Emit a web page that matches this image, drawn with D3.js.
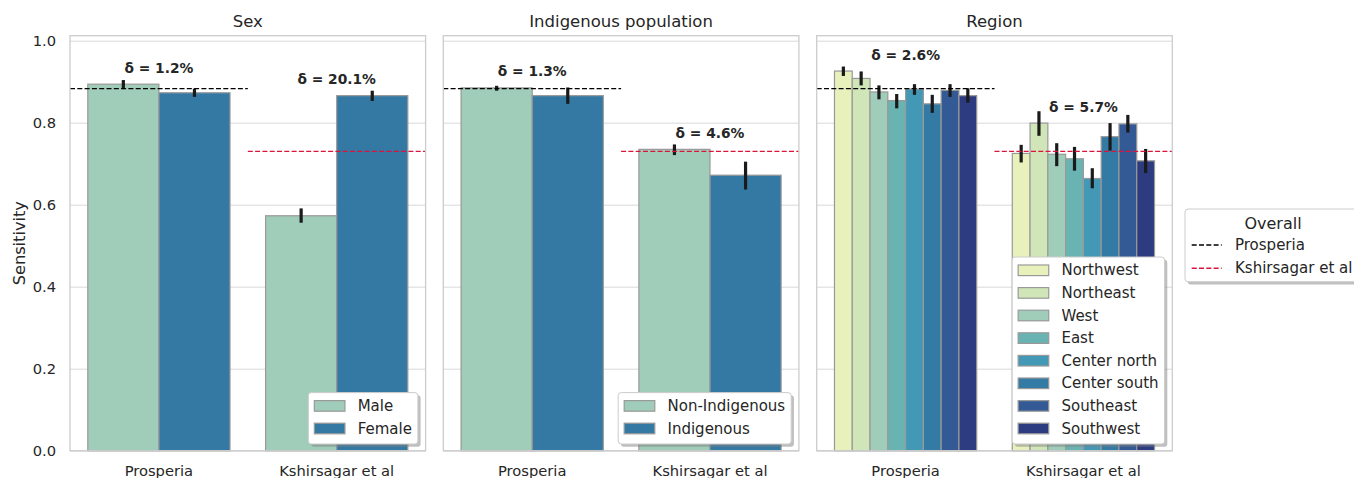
<!DOCTYPE html>
<html>
<head>
<meta charset="utf-8">
<script src="https://cdn.jsdelivr.net/npm/d3@7"></script>
<style>
  body { margin: 0; background: #fff; }
  svg { font-family: "DejaVu Sans", sans-serif; }
  text { fill: #262626; }
</style>
</head>
<body>
<svg id="chart" width="1354" height="478"></svg>
<script>
// ---- data ----
var categories = ['Prosperia', 'Kshirsagar et al'];
var yTicks = [0, 0.2, 0.4, 0.6, 0.8, 1.0];

var overallNames = ['Prosperia', 'Kshirsagar et al'];
var overallValues = [0.883, 0.730];
var overallColors = ['#000000', '#dc143c'];

var sexHues = ['Male', 'Female'];
var sexColors = ['#9fcdb9', '#3379a4'];
var sexMean = [[0.894, 0.873], [0.573, 0.866]];
var sexLow = [[0.882, 0.863], [0.556, 0.853]];
var sexHigh = [[0.904, 0.883], [0.591, 0.878]];
var sexDelta = ['δ = 1.2%', 'δ = 20.1%'];

var indHues = ['Non-Indigenous', 'Indigenous'];
var indColors = ['#9fcdb9', '#3379a4'];
var indMean = [[0.885, 0.866], [0.735, 0.672]];
var indLow = [[0.878, 0.846], [0.721, 0.637]];
var indHigh = [[0.890, 0.886], [0.747, 0.705]];
var indDelta = ['δ = 1.3%', 'δ = 4.6%'];

var regHues = ['Northwest', 'Northeast', 'West', 'East', 'Center north', 'Center south', 'Southeast', 'Southwest'];
var regColors = ['#e8f1bc', '#d0e6b8', '#9fcdb9', '#6ab3b3', '#4298b5', '#337aa5', '#335a94', '#2d3b80'];
var regMean = [
  [0.926, 0.908, 0.875, 0.854, 0.882, 0.846, 0.879, 0.866],
  [0.725, 0.799, 0.723, 0.712, 0.664, 0.766, 0.797, 0.707]
];
var regLow = [
  [0.914, 0.891, 0.857, 0.835, 0.868, 0.824, 0.863, 0.849],
  [0.703, 0.768, 0.694, 0.683, 0.640, 0.732, 0.776, 0.677]
];
var regHigh = [
  [0.937, 0.925, 0.891, 0.870, 0.894, 0.868, 0.894, 0.884],
  [0.746, 0.828, 0.750, 0.741, 0.689, 0.799, 0.819, 0.736]
];
var regDelta = ['δ = 2.6%', 'δ = 5.7%'];

var panels = [
  { title: 'Sex', hues: sexHues, colors: sexColors, mean: sexMean, low: sexLow, high: sexHigh, delta: sexDelta },
  { title: 'Indigenous population', hues: indHues, colors: indColors, mean: indMean, low: indLow, high: indHigh, delta: indDelta },
  { title: 'Region', hues: regHues, colors: regColors, mean: regMean, low: regLow, high: regHigh, delta: regDelta }
];

// ---- layout ----
var svg = d3.select('#chart');
var axLeft = [70, 443.3, 816.7];
var axW = 355.6;
var axTop = 35.7, axBottom = 450.7;
var tickFont = 14.7, legendFont = 15, titleFont = 16.5;

var y = d3.scaleLinear().domain([0, 1.0122]).range([axBottom, axTop]);

// legend frame with a soft offset shadow
function legendBox(g, x, yTop, w, h) {
  g.append('rect')
    .attr('x', x + 2.7).attr('y', yTop + 2.7)
    .attr('width', w).attr('height', h)
    .attr('rx', 3)
    .attr('fill', '#7f7f7f').attr('opacity', 0.5);
  g.append('rect')
    .attr('x', x).attr('y', yTop)
    .attr('width', w).attr('height', h)
    .attr('rx', 3)
    .attr('fill', '#ffffff')
    .attr('stroke', '#cccccc').attr('stroke-width', 1);
}

panels.forEach(function(p, pi) {
  var g = svg.append('g').attr('transform', 'translate(' + axLeft[pi] + ',0)');

  var x = d3.scaleBand().domain(categories).range([0, axW]);
  var xHue = d3.scaleBand().domain(p.hues)
    .range([x.bandwidth() * 0.1, x.bandwidth() * 0.9]);

  // grid
  g.append('g')
    .attr('class', 'grid')
    .call(d3.axisLeft(y).tickValues(yTicks).tickSize(-axW).tickFormat(''))
    .call(function(s) {
      s.select('.domain').remove();
      s.selectAll('line').attr('stroke', '#d9d9d9').attr('stroke-width', 1);
    });

  // y tick labels on the first panel only
  if (pi === 0) {
    g.append('g')
      .call(d3.axisLeft(y).tickValues(yTicks).tickSize(0).tickPadding(14).tickFormat(d3.format('.1f')))
      .attr('font-family', '"DejaVu Sans", sans-serif')
      .call(function(s) {
        s.select('.domain').remove();
        s.selectAll('text').attr('font-size', tickFont).attr('fill', '#262626');
      });
    svg.append('text')
      .attr('transform', 'translate(24.5,' + ((axTop + axBottom) / 2) + ') rotate(-90)')
      .attr('text-anchor', 'middle')
      .attr('font-size', 16.2)
      .text('Sensitivity');
  }

  // bars
  categories.forEach(function(c, ci) {
    var cg = g.append('g').attr('transform', 'translate(' + x(c) + ',0)');
    cg.selectAll('rect.bar')
      .data(p.hues)
      .enter()
      .append('rect')
      .attr('class', 'bar')
      .attr('x', function(h) { return xHue(h); })
      .attr('width', xHue.bandwidth())
      .attr('y', function(h, hi) { return y(p.mean[ci][hi]); })
      .attr('height', function(h, hi) { return y(0) - y(p.mean[ci][hi]); })
      .attr('fill', function(h, hi) { return p.colors[hi]; })
      .attr('stroke', '#999999')
      .attr('stroke-width', 1.2);

    cg.selectAll('line.err')
      .data(p.hues)
      .enter()
      .append('line')
      .attr('class', 'err')
      .attr('x1', function(h) { return xHue(h) + xHue.bandwidth() / 2; })
      .attr('x2', function(h) { return xHue(h) + xHue.bandwidth() / 2; })
      .attr('y1', function(h, hi) { return y(p.low[ci][hi]); })
      .attr('y2', function(h, hi) { return y(p.high[ci][hi]); })
      .attr('stroke', '#1a1a1a')
      .attr('stroke-width', 3.2);

    // delta annotation
    g.append('text')
      .attr('x', x(c) + x.bandwidth() / 2)
      .attr('y', y(d3.max(p.mean[ci]) + 0.04))
      .attr('text-anchor', 'middle')
      .attr('dominant-baseline', 'central')
      .attr('font-size', 13.8)
      .attr('font-weight', 'bold')
      .text(p.delta[ci]);
  });

  // overall reference lines
  overallValues.forEach(function(v, oi) {
    g.append('line')
      .attr('x1', x(categories[oi]))
      .attr('x2', x(categories[oi]) + x.bandwidth())
      .attr('y1', y(v)).attr('y2', y(v))
      .attr('stroke', overallColors[oi])
      .attr('stroke-width', 1.4)
      .attr('stroke-dasharray', '5,2.3');
  });

  // frame
  g.append('rect')
    .attr('x', 0).attr('y', axTop)
    .attr('width', axW).attr('height', axBottom - axTop)
    .attr('fill', 'none')
    .attr('stroke', '#cccccc').attr('stroke-width', 1.3);

  // category labels
  categories.forEach(function(c) {
    g.append('text')
      .attr('x', x(c) + x.bandwidth() / 2)
      .attr('y', 476)
      .attr('text-anchor', 'middle')
      .attr('font-size', tickFont)
      .text(c);
  });

  // title
  g.append('text')
    .attr('x', axW / 2).attr('y', 27)
    .attr('text-anchor', 'middle')
    .attr('font-size', titleFont)
    .text(p.title);

  // hue legend (lower right)
  var rowH = 22.6;
  var lg = g.append('g');
  var tmp = lg.append('g');
  var widest = 0;
  p.hues.forEach(function(h) {
    var t = tmp.append('text').attr('font-size', legendFont).text(h);
    widest = Math.max(widest, t.node().getComputedTextLength());
  });
  tmp.remove();
  var boxW = 6 + 30.6 + 12.7 + widest + 6;
  var boxH = 13.3 + (p.hues.length - 1) * rowH + 15.5;
  var bx = axW - 7.7 - boxW;
  var by = axBottom - 6.7 - boxH;
  legendBox(lg, bx, by, boxW, boxH);
  p.hues.forEach(function(h, hi) {
    var ry = by + 13.3 + hi * rowH;
    lg.append('rect')
      .attr('x', bx + 6).attr('y', ry - 5.3)
      .attr('width', 30.6).attr('height', 10.6)
      .attr('fill', p.colors[hi])
      .attr('stroke', '#999999').attr('stroke-width', 1.2);
    lg.append('text')
      .attr('x', bx + 6 + 30.6 + 12.7).attr('y', ry)
      .attr('dominant-baseline', 'central')
      .attr('font-size', legendFont)
      .text(h);
  });
});

// overall legend outside the right panel
var og = svg.append('g');
legendBox(og, 1185, 209, 185, 72.7);
og.append('text')
  .attr('x', 1273).attr('y', 223)
  .attr('text-anchor', 'middle')
  .attr('dominant-baseline', 'central')
  .attr('font-size', 16)
  .text('Overall');
overallNames.forEach(function(n, i) {
  var ry = 245 + i * 23.2;
  og.append('line')
    .attr('x1', 1191.7).attr('x2', 1221.7)
    .attr('y1', ry).attr('y2', ry)
    .attr('stroke', overallColors[i])
    .attr('stroke-width', 1.4)
    .attr('stroke-dasharray', '5,2.3');
  og.append('text')
    .attr('x', 1235).attr('y', ry)
    .attr('dominant-baseline', 'central')
    .attr('font-size', legendFont)
    .text(n);
});
</script>
</body>
</html>
